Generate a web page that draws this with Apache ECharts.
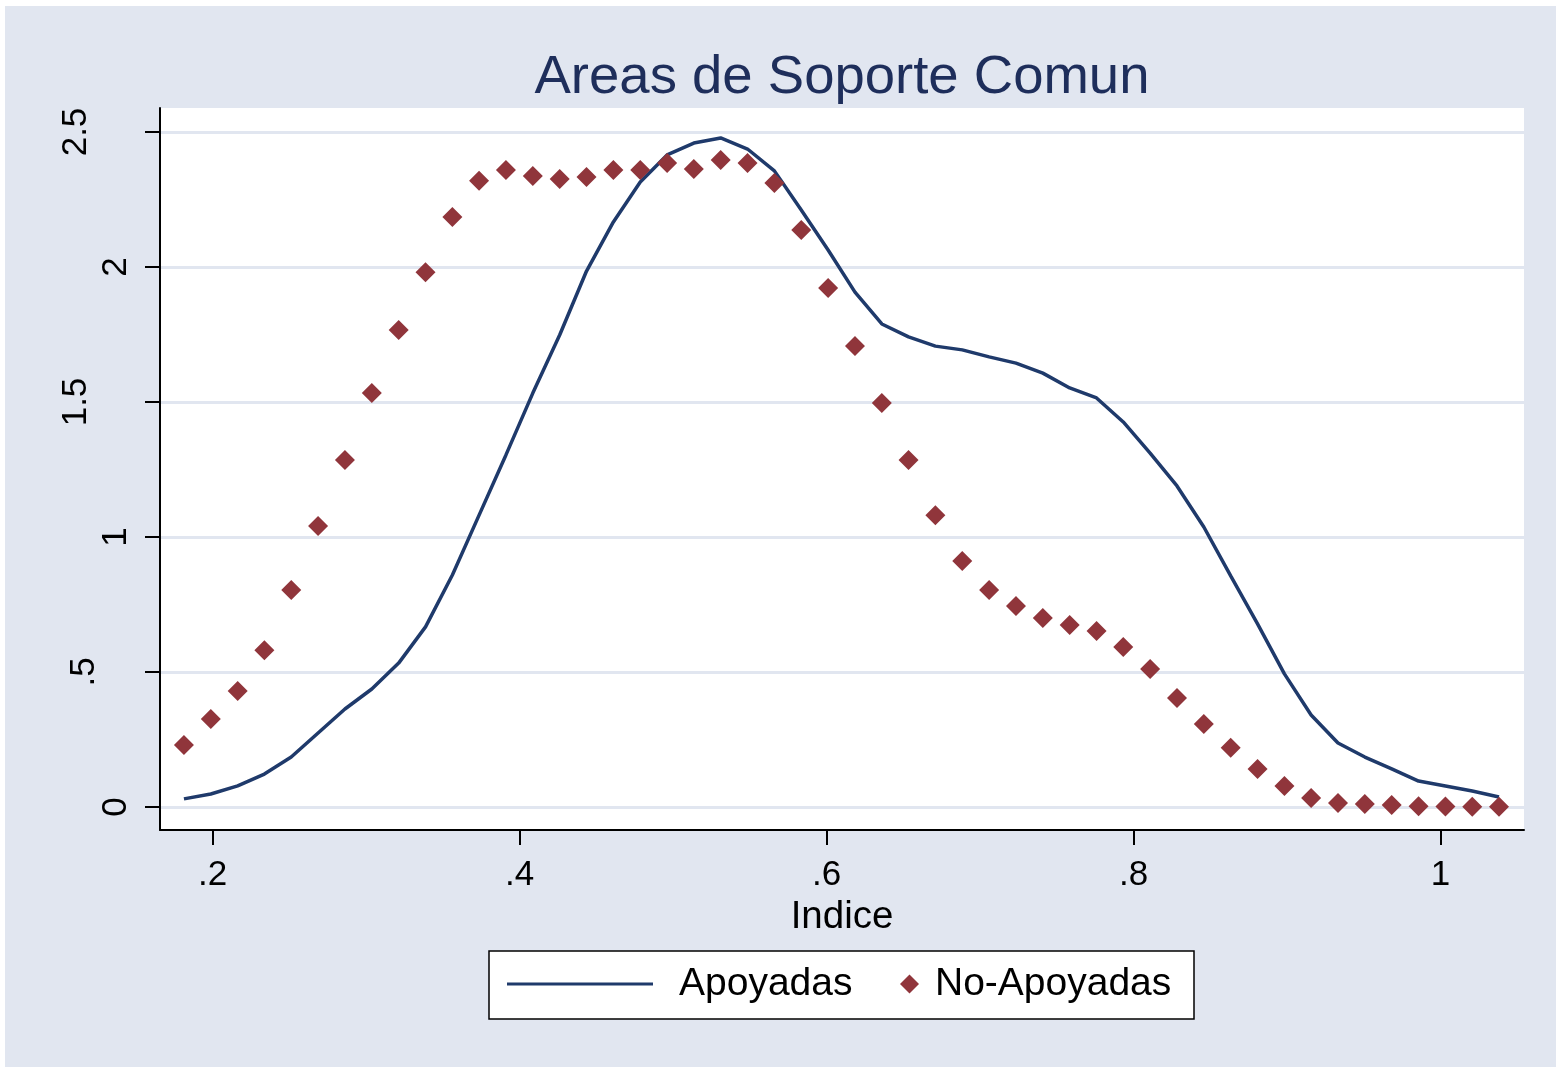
<!DOCTYPE html>
<html>
<head>
<meta charset="utf-8">
<script src="https://cdn.jsdelivr.net/npm/echarts@6/dist/echarts.min.js"></script>
<style>
  html, body { margin: 0; padding: 0; background: #ffffff; }
  #bg { position: absolute; left: 5px; top: 6px; width: 1551px; height: 1061px; background: #e1e6f0; }
  #main { position: absolute; left: 0; top: 0; width: 1556px; height: 1067px; }
</style>
</head>
<body>
<div id="bg"></div>
<div id="main"></div>
<script>
// ---- data ----
const xGrid = [0.1813,0.1988,0.2163,0.2337,0.2512,0.2687,0.2862,0.3037,0.3212,0.3387,
               0.3562,0.3736,0.3911,0.4086,0.4261,0.4436,0.4611,0.4786,0.4961,0.5135,
               0.5310,0.5485,0.5660,0.5835,0.6010,0.6185,0.6360,0.6534,0.6709,0.6884,
               0.7059,0.7234,0.7409,0.7584,0.7759,0.7933,0.8108,0.8283,0.8458,0.8633,
               0.8808,0.8983,0.9157,0.9332,0.9507,0.9682,0.9857,1.0032,1.0207,1.0381];

const apoyadas = [0.030,0.048,0.078,0.122,0.185,0.274,0.363,0.437,0.533,0.667,
                  0.859,1.081,1.304,1.533,1.748,1.985,2.167,2.315,2.415,2.459,
                  2.478,2.437,2.356,2.211,2.063,1.907,1.789,1.741,1.707,1.693,
                  1.667,1.644,1.607,1.552,1.515,1.426,1.311,1.189,1.037,0.856,
                  0.678,0.493,0.341,0.237,0.185,0.141,0.096,0.078,0.059,0.037];

const noApoyadas = [0.230,0.326,0.430,0.581,0.804,1.041,1.285,1.533,1.767,1.981,
                    2.185,2.319,2.359,2.337,2.326,2.333,2.359,2.359,2.385,2.363,
                    2.396,2.385,2.311,2.137,1.922,1.707,1.496,1.285,1.081,0.911,
                    0.804,0.744,0.700,0.674,0.652,0.593,0.511,0.404,0.307,0.219,
                    0.141,0.078,0.033,0.015,0.011,0.007,0.003,0.002,0.001,0.001];

const xTickValues = [0.2, 0.4, 0.6, 0.8, 1.0];
const xTickLabels = ['.2', '.4', '.6', '.8', '1'];
const yTickValues = [0, 0.5, 1, 1.5, 2, 2.5];
const yTickLabels = ['0', '.5', '1', '1.5', '2', '2.5'];

const seriesNames = ['Apoyadas', 'No-Apoyadas'];
const titleText = 'Areas de Soporte Comun';
const xAxisTitle = 'Indice';

// ---- styles ----
const FONT = "'Liberation Sans', Arial, sans-serif";
const NAVY = '#1f3a6b';
const MAROON = '#90353b';
const GRIDC = '#e1e6f0';

function nearestIndex(arr, v) {
  let best = 0, d = Infinity;
  for (let i = 0; i < arr.length; i++) {
    const dd = Math.abs(arr[i] - v);
    if (dd < d) { d = dd; best = i; }
  }
  return best;
}

const chart = echarts.init(document.getElementById('main'), null, { renderer: 'canvas' });

const option = {
  backgroundColor: 'transparent',
  animation: false,
  title: {
    text: titleText,
    left: 842,
    top: 50,
    padding: 0,
    textAlign: 'center',
    textStyle: { fontFamily: FONT, fontSize: 54.5, fontWeight: 'normal', color: '#1e2e5b' }
  },
  grid: {
    left: 160, right: 32, top: 108, bottom: 237,
    show: true, backgroundColor: '#ffffff', borderWidth: 0,
    containLabel: false
  },
  xAxis: {
    type: 'value',
    min: 0.1657, max: 1.0544,
    name: xAxisTitle,
    nameLocation: 'middle',
    nameGap: 57,
    nameTextStyle: { fontFamily: FONT, fontSize: 38.5, color: '#000000' },
    axisLine: { show: true, onZero: false, lineStyle: { color: '#000000', width: 2 } },
    axisTick: { show: true, length: 15, lineStyle: { color: '#000000', width: 2 }, customValues: xTickValues },
    axisLabel: {
      customValues: xTickValues,
      margin: 28,
      fontFamily: FONT, fontSize: 35, color: '#000000',
      formatter: function (v) { return xTickLabels[nearestIndex(xTickValues, v)]; }
    },
    splitLine: { show: false }
  },
  yAxis: {
    type: 'value',
    min: -0.0852, max: 2.5889,
    axisLine: { show: true, onZero: false, lineStyle: { color: '#000000', width: 2 } },
    axisTick: { show: true, length: 15, lineStyle: { color: '#000000', width: 2 }, customValues: yTickValues },
    axisLabel: {
      customValues: yTickValues,
      rotate: 90,
      margin: 26,
      fontFamily: FONT, fontSize: 35, color: '#000000',
      formatter: function (v) {
        const lab = yTickLabels[nearestIndex(yTickValues, v)];
        return '{s' + lab.length + '|' + lab + '}';
      },
      rich: {
        s1: { fontFamily: FONT, fontSize: 35, color: '#000000', padding: [0, 0, 0, 0] },
        s2: { fontFamily: FONT, fontSize: 35, color: '#000000', padding: [0, 0, 32, 0] },
        s3: { fontFamily: FONT, fontSize: 35, color: '#000000', padding: [0, 0, 40, 0] }
      }
    },
    splitLine: { show: true, lineStyle: { color: GRIDC, width: 3 } }
  },
  graphic: [{
    type: 'rect',
    shape: { x: 489, y: 951, width: 705, height: 68 },
    style: { fill: '#ffffff', stroke: '#000000', lineWidth: 1.5 },
    z: 1
  }],
  legend: [
    {
      data: [{ name: seriesNames[0], icon: 'rect' }],
      left: 507, top: 963, padding: 0,
      itemWidth: 146, itemHeight: 3,
      selectedMode: false,
      z: 10,
      textStyle: { fontFamily: FONT, fontSize: 39, color: '#000000', lineHeight: 42, padding: [0, 0, 0, 21] }
    },
    {
      data: [{ name: seriesNames[1], icon: 'diamond' }],
      left: 900, top: 963, padding: 0,
      itemWidth: 19, itemHeight: 19,
      selectedMode: false,
      z: 10,
      textStyle: { fontFamily: FONT, fontSize: 39, color: '#000000', lineHeight: 42, padding: [0, 0, 0, 11] }
    }
  ],
  series: [
    {
      name: seriesNames[0],
      type: 'line',
      data: xGrid.map((x, i) => [x, apoyadas[i]]),
      symbol: 'none',
      showSymbol: false,
      smooth: false,
      lineStyle: { color: NAVY, width: 3.5 },
      itemStyle: { color: NAVY },
      z: 3
    },
    {
      name: seriesNames[1],
      type: 'scatter',
      data: xGrid.map((x, i) => [x, noApoyadas[i]]),
      symbol: 'diamond',
      symbolSize: 20,
      itemStyle: { color: MAROON, opacity: 1 },
      z: 4
    }
  ]
};

chart.setOption(option);
</script>
</body>
</html>
